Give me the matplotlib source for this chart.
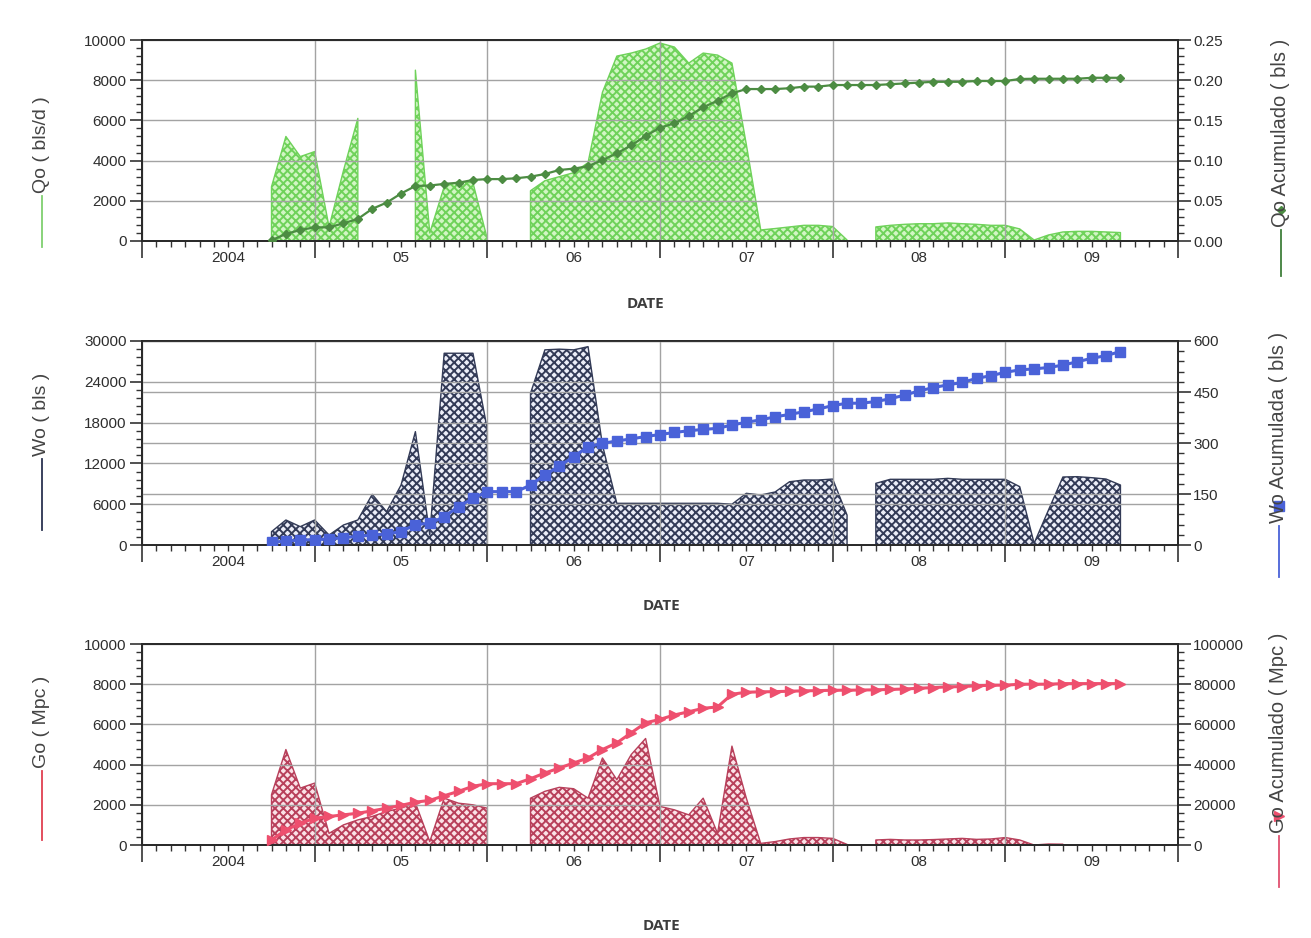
import numpy as np
import pandas as pd
import matplotlib
matplotlib.use('Agg')
import matplotlib.pyplot as plt
from matplotlib.ticker import MultipleLocator, AutoMinorLocator, NullFormatter, FormatStrFormatter
from matplotlib.lines import Line2D

nan = np.nan

# ---------------- data (monthly, Oct-2004 .. Sep-2009) ----------------
months = pd.date_range('2004-10-01', periods=60, freq='MS')

qo = [2700, 5200, 4200, 4450, 700, 3500, 6100, nan, nan, nan,
      8500, 400, 2700, 2950, 2900, 100, nan, nan, 2500, 3000,
      3200, 3400, 3900, 7400, 9200, 9350, 9550, 9850, 9650, 8850,
      9350, 9250, 8850, 4800, 550, 620, 700, 780, 780, 720,
      50, nan, 700, 780, 830, 860, 860, 900, 860, 830,
      780, 780, 600, 50, 300, 450, 480, 480, 450, 420]

np_cum = [0.001, 0.0087, 0.0137, 0.017, 0.017, 0.022, 0.0274, 0.040, 0.0477, 0.059,
          0.0684, 0.069, 0.071, 0.0725, 0.0759, 0.077, 0.077, 0.078, 0.080, 0.0833,
          0.0883, 0.090, 0.093, 0.1007, 0.109, 0.119, 0.1306, 0.141, 0.1463, 0.1555,
          0.1663, 0.1745, 0.1837, 0.189, 0.189, 0.189, 0.190, 0.192, 0.192, 0.194,
          0.194, 0.194, 0.194, 0.195, 0.196, 0.197, 0.198, 0.198, 0.198, 0.199,
          0.199, 0.199, 0.2015, 0.2018, 0.2018, 0.2018, 0.2018, 0.203, 0.203, 0.203]

wo = [1960, 3680, 2700, 3680, 1470, 2940, 3680, 7450, 4900, 8800,
      16670, 1500, 28200, 28200, 28200, 17000, nan, nan, 22300, 28700,
      28800, 28700, 29170, 14700, 6130, 6130, 6130, 6130, 6130, 6130,
      6130, 6130, 6000, 7600, 7350, 7800, 9300, 9560, 9560, 9700,
      4400, nan, 9070, 9660, 9660, 9660, 9660, 9800, 9660, 9660,
      9660, 9660, 8580, 250, 5150, 10000, 10050, 9900, 9700, 8820]

wp_cum = [7.8, 11.8, 14.7, 15.7, 17.6, 21.6, 25.5, 29.4, 32.4, 39.2,
          60, 64, 83, 113, 137, 157, 157, 157, 176, 206,
          232, 260, 289, 299, 306, 312, 319, 325, 331, 336,
          340, 343, 353, 361, 368, 377, 384, 392, 400, 410,
          417, 417, 422, 430, 441, 453, 463, 471, 478, 490,
          498, 508, 515, 518, 522, 529, 539, 549, 557, 569]

go = [2500, 4750, 2830, 3080, 580, 1000, 1250, 1420, 1670, 1830,
      2100, 170, 2330, 2080, 2000, 1830, nan, nan, 2330, 2670,
      2870, 2800, 2330, 4330, 3250, 4500, 5300, 1920, 1750, 1500,
      2330, 580, 4920, 2330, 80, 170, 300, 370, 370, 330,
      30, nan, 250, 280, 250, 250, 270, 300, 330, 280,
      300, 370, 250, 0, 50, 40, nan, nan, nan, nan]

gp_cum = [2500, 7500, 10800, 13300, 14200, 15000, 15800, 17000, 18300, 19700,
          21300, 22200, 24500, 26700, 29200, 30500, 30500, 30500, 33000, 35800,
          38300, 40800, 43300, 47500, 50800, 55800, 60800, 62500, 64700, 66300,
          68000, 68700, 75000, 76000, 76200, 76300, 76500, 76700, 76800, 77000,
          77000, 77100, 77200, 77400, 77600, 78000, 78300, 78700, 78800, 79200,
          79500, 79500, 80000, 80000, 80000, 80300, 80300, 80300, 80300, 80300]

year_starts = [2004, 2005, 2006, 2007, 2008, 2009, 2010]
year_labels = ['2004', '05', '06', '07', '08', '09']

left_labels = ['Qo ( bls/d )', 'Wo ( bls )', 'Go ( Mpc )']
right_labels = ['Qo Acumulado ( bls )', 'Wo Acumulada ( bls )', 'Go Acumulado ( Mpc )']
x_title = 'DATE'

# ---------------- helpers ----------------
xdec = np.array([d.year + (d.month - 1) / 12.0 for d in months])

W, H = 1311, 938
fig = plt.figure(figsize=(W / 100, H / 100), dpi=100)
fig.patch.set_facecolor('white')
plt.rcParams['hatch.linewidth'] = 1.4

TICKFONT = ['Liberation Sans', 'DejaVu Sans']
LABFONT = ['Liberation Sans', 'DejaVu Sans']
TXT = '#2e2e2e'
GRID = '#a3a3a3'


def rect(l, t, r, b):
    return [l / W, 1 - b / H, (r - l) / W, (b - t) / H]


def px(x, y):
    return x / W, 1 - y / H


def setup(ax, axr, ylim, ystep, ylim_r, rstep, rfmt, right_grid=False):
    ax.set_xlim(year_starts[0], year_starts[-1])
    ax.set_ylim(*ylim)
    axr.set_ylim(*ylim_r)
    ax.xaxis.set_major_locator(MultipleLocator(1))
    ax.xaxis.set_minor_locator(MultipleLocator(1 / 12))
    ax.xaxis.set_major_formatter(NullFormatter())
    ax.yaxis.set_major_locator(MultipleLocator(ystep))
    ax.yaxis.set_minor_locator(AutoMinorLocator(5))
    axr.yaxis.set_major_locator(MultipleLocator(rstep))
    axr.yaxis.set_minor_locator(AutoMinorLocator(5))
    axr.yaxis.set_major_formatter(FormatStrFormatter(rfmt))
    ax.tick_params(axis='x', which='major', length=12, width=1.2, color='#333')
    ax.tick_params(axis='x', which='minor', length=4, width=1.0, color='#333')
    ax.tick_params(axis='y', which='major', length=9, width=1.2, color='#333',
                   labelsize=11, labelcolor=TXT, pad=2)
    ax.tick_params(axis='y', which='minor', length=4, width=1.0, color='#333')
    axr.tick_params(axis='y', which='major', length=9, width=1.2, color='#333',
                    labelsize=11, labelcolor=TXT, pad=2)
    axr.tick_params(axis='y', which='minor', length=4, width=1.0, color='#333')
    for lab in ax.get_yticklabels() + axr.get_yticklabels():
        lab.set_family(TICKFONT)
    ax.grid(True, which='major', color=GRID, lw=1.0)
    if right_grid:
        axr.grid(True, axis='y', which='major', color=GRID, lw=1.0)
    for a in (ax, axr):
        for s in a.spines.values():
            s.set_color('#2a2a2a')
            s.set_linewidth(1.3)
    for yr, lab in zip(year_starts[:-1], year_labels):
        ax.annotate(lab, xy=(yr + 0.5, 0), xycoords=('data', 'axes fraction'),
                    xytext=(0, -12.5), textcoords='offset points', ha='center', va='center',
                    fontsize=11, color=TXT, family=TICKFONT)


def side_label(x, ybot_text, yline_end, text, color, fs, marker=None, mcolor=None, msize=6):
    cx, _ = px(x, 0)
    fig.text(cx, 1 - ybot_text / H, text, rotation=90, ha='center', va='bottom',
             fontsize=fs, color='#444', family=LABFONT)
    fig.add_artist(Line2D([cx, cx], [1 - (ybot_text + 3) / H, 1 - yline_end / H],
                          color=color, lw=1.3, transform=fig.transFigure))
    if marker is not None:
        fig.add_artist(Line2D([cx], [1 - (ybot_text - 17) / H], marker=marker, ms=msize,
                              color=mcolor, mec=mcolor, transform=fig.transFigure))


panels = [
    dict(box=(142, 40, 1178, 241), rate=qo, cum=np_cum, ylim=(0, 10000), ystep=2000,
         ylim_r=(0, 0.25), rstep=0.05, rfmt='%.2f', face='#d2f6c4', hatch_c='#6fd25a',
         lc='#4c8c42', mk='D', ms=4.5, lw=1.6, rgrid=False,
         lab_l=(42, 193, 247, '#7fd070'), lab_r=(1281, 227, 276, '#3f7f3a'),
         date=(645, 304)),
    dict(box=(142, 341, 1178, 545), rate=wo, cum=wp_cum, ylim=(0, 30000), ystep=6000,
         ylim_r=(0, 600), rstep=150, rfmt='%d', face='#eceef8', hatch_c='#333b57',
         lc='#4a62d8', mk='s', ms=6.5, lw=2.2, rgrid=True,
         lab_l=(42, 456, 530, '#2b3350'), lab_r=(1279, 523, 577, '#4a62d8'),
         date=(661, 606)),
    dict(box=(142, 644, 1178, 845), rate=go, cum=gp_cum, ylim=(0, 10000), ystep=2000,
         ylim_r=(0, 100000), rstep=20000, rfmt='%d', face='#fbe2e7', hatch_c='#b8405b',
         lc='#ee4f6e', mk='>', ms=7, lw=2.2, rgrid=False,
         lab_l=(42, 768, 840, '#e04050'), lab_r=(1279, 833, 887, '#e05070'),
         date=(661, 926)),
]

for i, p in enumerate(panels):
    ax = fig.add_axes(rect(*p['box']))
    axr = ax.twinx()
    setup(ax, axr, p['ylim'], p['ystep'], p['ylim_r'], p['rstep'], p['rfmt'], p['rgrid'])
    rate = np.array(p['rate'], dtype=float)
    # hatch colour follows edge colour
    ax.fill_between(xdec, 0, rate, facecolor=p['face'], edgecolor=p['hatch_c'],
                    hatch='xxxx', lw=1.0, zorder=1)
    axr.plot(xdec, p['cum'], color=p['lc'], lw=p['lw'], marker=p['mk'], ms=p['ms'],
             mec=p['lc'], mfc=p['lc'], zorder=3)
    xl, yb, ye, cl = p['lab_l']
    side_label(xl, yb, ye, left_labels[i], cl, 14)
    xr, ybr, yer, cr = p['lab_r']
    side_label(xr, ybr, yer, right_labels[i], cr, 14.5, marker=p['mk'], mcolor=p['lc'],
               msize=p['ms'])
    dx, dy = px(*p['date'])
    fig.text(dx, dy, x_title, ha='center', va='center', fontsize=11, fontweight='bold',
             color='#3d3d3d', family=['Open Sans', 'DejaVu Sans'])

fig.savefig('out.png', dpi=100, facecolor='white')
